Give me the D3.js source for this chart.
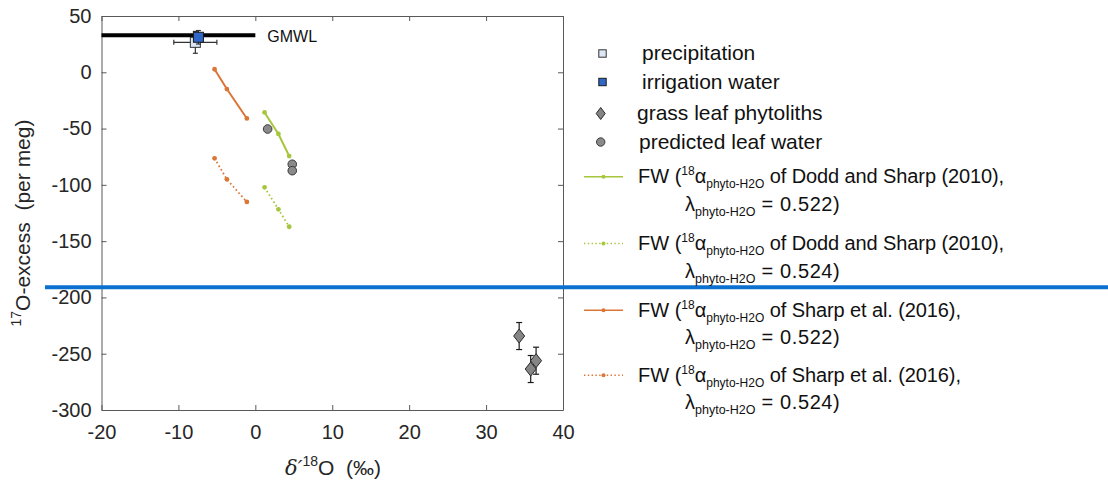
<!DOCTYPE html>
<html>
<head>
<meta charset="utf-8">
<script src="https://cdn.jsdelivr.net/npm/d3@7"></script>
<style>
  html, body { margin: 0; padding: 0; background: #fff; }
  svg { display: block; font-family: "Liberation Sans", Arial, Helvetica, sans-serif; }
  text { white-space: pre; }
</style>
</head>
<body>
<svg id="chart" width="1108" height="481"></svg>
<script>
// ---- data ----
const xTicks = [-20, -10, 0, 10, 20, 30, 40];
const yTicks = [50, 0, -50, -100, -150, -200, -250, -300];

// Global meteoric water line (17O-excess, per meg) over its x extent
const gmwlY = 33;
const gmwlX = [-20, 0];

const precipitation = [{ x: -7.8, y: 26.6, xErr: 2.8, yErr: 9.7 }];
const irrigation = [{ x: -7.4, y: 31.1, xErr: 0.6, yErr: 6 }];

const phytoliths = [
  { x: 34.3, y: -234.3, yErr: 12 },
  { x: 36.5, y: -256.2, yErr: 12 },
  { x: 35.8, y: -263.6, yErr: 12 }
];

const leafWater = [
  { x: 1.6, y: -50.4 },
  { x: 4.8, y: -81.7 },
  { x: 4.8, y: -87.4 }
];

// Predicted phytolith values (FW model), three points each
const doddX = [1.2, 3.0, 4.4];
const dodd522 = [-35.7, -54.8, -74.4];
const dodd524 = [-102.2, -121.7, -137.2];
const sharpX = [-5.3, -3.7, -1.1];
const sharp522 = [2.7, -14.9, -41.0];
const sharp524 = [-76.4, -95.1, -115.2];

// Horizontal divider level (per meg)
const dividerY = -191;

const legendTop = ["precipitation", "irrigation water", "grass leaf phytoliths", "predicted leaf water"];
const legendFW = [
  { ref: "Dodd and Sharp (2010)", lambda: "0.522" },
  { ref: "Dodd and Sharp (2010)", lambda: "0.524" },
  { ref: "Sharp et al. (2016)", lambda: "0.522" },
  { ref: "Sharp et al. (2016)", lambda: "0.524" }
];

// ---- styles ----
const GREEN = "#a6c63c";
const ORANGE = "#db7636";
const AXIS = "#595959";
const TEXT = "#262626";

const svg = d3.select("#chart");
const x = d3.scaleLinear().domain([-20, 40]).range([101.5, 563]);
const y = d3.scaleLinear().domain([-300, 50]).range([410, 16]);
const fmt = d => String(d);

// ---- axes (box with inward ticks) ----
const axB = svg.append("g").attr("transform", `translate(0,${y(-300)})`)
  .call(d3.axisBottom(x).tickValues(xTicks).tickFormat(fmt).tickSizeInner(-5).tickSizeOuter(0).tickPadding(14.5));
const axT = svg.append("g").attr("transform", `translate(0,${y(50)})`)
  .call(d3.axisTop(x).tickValues(xTicks).tickSizeInner(-5).tickSizeOuter(0).tickFormat(""));
const axL = svg.append("g").attr("transform", `translate(${x(-20)},0)`)
  .call(d3.axisLeft(y).tickValues(yTicks).tickFormat(fmt).tickSizeInner(-5).tickSizeOuter(0).tickPadding(10));
const axR = svg.append("g").attr("transform", `translate(${x(40)},0)`)
  .call(d3.axisRight(y).tickValues(yTicks).tickSizeInner(-5).tickSizeOuter(0).tickFormat(""));
[axB, axT, axL, axR].forEach(g => {
  g.selectAll("path, line").attr("stroke", AXIS).attr("stroke-width", 1);
  g.selectAll("text").attr("fill", TEXT).style("font-size", "20px")
    .style("font-family", '"Liberation Sans", Arial, Helvetica, sans-serif');
});

// axis titles
const xl = svg.append("text").attr("x", 333).attr("y", 475).attr("text-anchor", "middle")
  .attr("fill", TEXT).style("font-size", "21px");
xl.append("tspan").style("font-family", '"DejaVu Serif", serif').style("font-style", "italic").text("δ′");
xl.append("tspan").attr("dy", -9).style("font-size", "14px").text("18");
xl.append("tspan").attr("dy", 9).text("O  (‰)");

const yl = svg.append("text").attr("transform", "translate(30,223) rotate(-90)")
  .attr("text-anchor", "middle").attr("fill", TEXT).style("font-size", "21px");
yl.append("tspan").attr("dy", -9).style("font-size", "14px").text("17");
yl.append("tspan").attr("dy", 9).text("O-excess  (per meg)");

// ---- GMWL ----
svg.append("line")
  .attr("x1", x(gmwlX[0])).attr("x2", x(gmwlX[1]))
  .attr("y1", y(gmwlY)).attr("y2", y(gmwlY))
  .attr("stroke", "#000").attr("stroke-width", 4);
svg.append("text").attr("x", x(gmwlX[1]) + 12).attr("y", y(gmwlY) + 7)
  .attr("fill", "#111").style("font-size", "16px").text("GMWL");

// ---- error bar helper ----
function errBars(data, color, cap) {
  const g = svg.append("g").attr("stroke", color).attr("stroke-width", 1.2).attr("fill", "none");
  data.forEach(d => {
    if (d.yErr) {
      g.append("line").attr("x1", x(d.x)).attr("x2", x(d.x)).attr("y1", y(d.y - d.yErr)).attr("y2", y(d.y + d.yErr));
      [d.y - d.yErr, d.y + d.yErr].forEach(v =>
        g.append("line").attr("x1", x(d.x) - cap).attr("x2", x(d.x) + cap).attr("y1", y(v)).attr("y2", y(v)));
    }
    if (d.xErr) {
      g.append("line").attr("y1", y(d.y)).attr("y2", y(d.y)).attr("x1", x(d.x - d.xErr)).attr("x2", x(d.x + d.xErr));
      [d.x - d.xErr, d.x + d.xErr].forEach(v =>
        g.append("line").attr("y1", y(d.y) - cap).attr("y2", y(d.y) + cap).attr("x1", x(v)).attr("x2", x(v)));
    }
  });
}

// ---- water samples ----
errBars(precipitation, "#333", 2.5);
svg.selectAll(".prec").data(precipitation).enter().append("rect")
  .attr("x", d => x(d.x) - 5).attr("y", d => y(d.y) - 5).attr("width", 10).attr("height", 10)
  .attr("fill", "#dde7f5").attr("stroke", "#333").attr("stroke-width", 1);
errBars(irrigation, "#333", 2.5);
svg.selectAll(".irr").data(irrigation).enter().append("rect")
  .attr("x", d => x(d.x) - 5).attr("y", d => y(d.y) - 5).attr("width", 10).attr("height", 10)
  .attr("fill", "#2f67c9").attr("stroke", "#1a1a1a").attr("stroke-width", 1);

// ---- FW model lines ----
const line = d3.line().x(d => x(d[0])).y(d => y(d[1]));
function fwSeries(xs, ys, color, dotted) {
  const pts = xs.map((v, i) => [v, ys[i]]);
  svg.append("path").datum(pts).attr("d", line).attr("fill", "none")
    .attr("stroke", color).attr("stroke-width", dotted ? 1.8 : 2)
    .attr("stroke-dasharray", dotted ? "1.6,2.6" : null);
  svg.append("g").selectAll("circle").data(pts).enter().append("circle")
    .attr("cx", d => x(d[0])).attr("cy", d => y(d[1])).attr("r", 2.4).attr("fill", color);
}
fwSeries(sharpX, sharp522, ORANGE, false);
fwSeries(sharpX, sharp524, ORANGE, true);
fwSeries(doddX, dodd522, GREEN, false);
fwSeries(doddX, dodd524, GREEN, true);

// ---- predicted leaf water ----
svg.selectAll(".leaf").data(leafWater).enter().append("circle")
  .attr("cx", d => x(d.x)).attr("cy", d => y(d.y)).attr("r", 4.3)
  .attr("fill", "#8a8a8a").attr("stroke", "#3a3a3a").attr("stroke-width", 1);

// ---- phytoliths ----
const diamond = (w, h) => `M0,${-h}L${w},0L0,${h}L${-w},0Z`;
errBars(phytoliths, "#1a1a1a", 3);
svg.selectAll(".phyto").data(phytoliths).enter().append("path")
  .attr("transform", d => `translate(${x(d.x)},${y(d.y)})`)
  .attr("d", diamond(5.5, 7))
  .attr("fill", "#858585").attr("stroke", "#2a2a2a").attr("stroke-width", 1);

// ---- divider ----
svg.append("line").attr("x1", 45).attr("x2", 1108)
  .attr("y1", y(dividerY)).attr("y2", y(dividerY))
  .attr("stroke", "#0b70cf").attr("stroke-width", 4);

// ---- legend: sample markers ----
const lg = svg.append("g");
const topRows = [
  { by: 60, tx: 642, mark: g => g.append("rect").attr("x", -3.7).attr("y", -3.7).attr("width", 7.4).attr("height", 7.4).attr("fill", "#dde7f5").attr("stroke", "#333"), mx: 602.5 },
  { by: 88.5, tx: 642, mark: g => g.append("rect").attr("x", -3.7).attr("y", -3.7).attr("width", 7.4).attr("height", 7.4).attr("fill", "#2f67c9").attr("stroke", "#1a1a1a"), mx: 602.5 },
  { by: 120, tx: 637, mark: g => g.append("path").attr("d", diamond(4.5, 6)).attr("fill", "#858585").attr("stroke", "#2a2a2a"), mx: 600.7 },
  { by: 148.5, tx: 639, mark: g => g.append("circle").attr("r", 4.2).attr("fill", "#8a8a8a").attr("stroke", "#3a3a3a"), mx: 600.7 }
];
legendTop.forEach((label, i) => {
  const r = topRows[i];
  const m = lg.append("g").attr("transform", `translate(${r.mx},${r.by - 6.5})`);
  r.mark(m);
  lg.append("text").attr("x", r.tx).attr("y", r.by).attr("fill", "#111")
    .style("font-size", "21px").text(label);
});

// ---- legend: FW model entries ----
const fwStyles = [
  { color: GREEN, dotted: false },
  { color: GREEN, dotted: true },
  { color: ORANGE, dotted: false },
  { color: ORANGE, dotted: true }
];
const fwBase = [183.3, 250, 316.7, 381.7];
legendFW.forEach((e, i) => {
  const st = fwStyles[i];
  const by = fwBase[i];
  lg.append("line").attr("x1", 584).attr("x2", 623).attr("y1", by - 6.5).attr("y2", by - 6.5)
    .attr("stroke", st.color).attr("stroke-width", 1.6)
    .attr("stroke-dasharray", st.dotted ? "1.4,2.4" : null);
  lg.append("circle").attr("cx", 603.5).attr("cy", by - 6.5).attr("r", 2).attr("fill", st.color);

  const t1 = lg.append("text").attr("x", 638).attr("y", by).attr("fill", "#111").style("font-size", "20px");
  t1.append("tspan").text("FW (");
  t1.append("tspan").attr("dy", -8).style("font-size", "12px").text("18");
  t1.append("tspan").attr("dy", 8).text("α");
  t1.append("tspan").attr("dy", 5).style("font-size", "12px").text("phyto-H2O");
  t1.append("tspan").attr("dy", -5).style("letter-spacing", "-0.1px").text(" of " + e.ref + ",");

  const t2 = lg.append("text").attr("x", 685).attr("y", by + 27.5).attr("fill", "#111").style("font-size", "20px");
  t2.append("tspan").text("λ");
  t2.append("tspan").attr("dy", 5).style("font-size", "12.5px").text("phyto-H2O");
  t2.append("tspan").attr("dy", -5).style("letter-spacing", "0.6px").text(" = " + e.lambda + ")");
});
</script>
</body>
</html>
